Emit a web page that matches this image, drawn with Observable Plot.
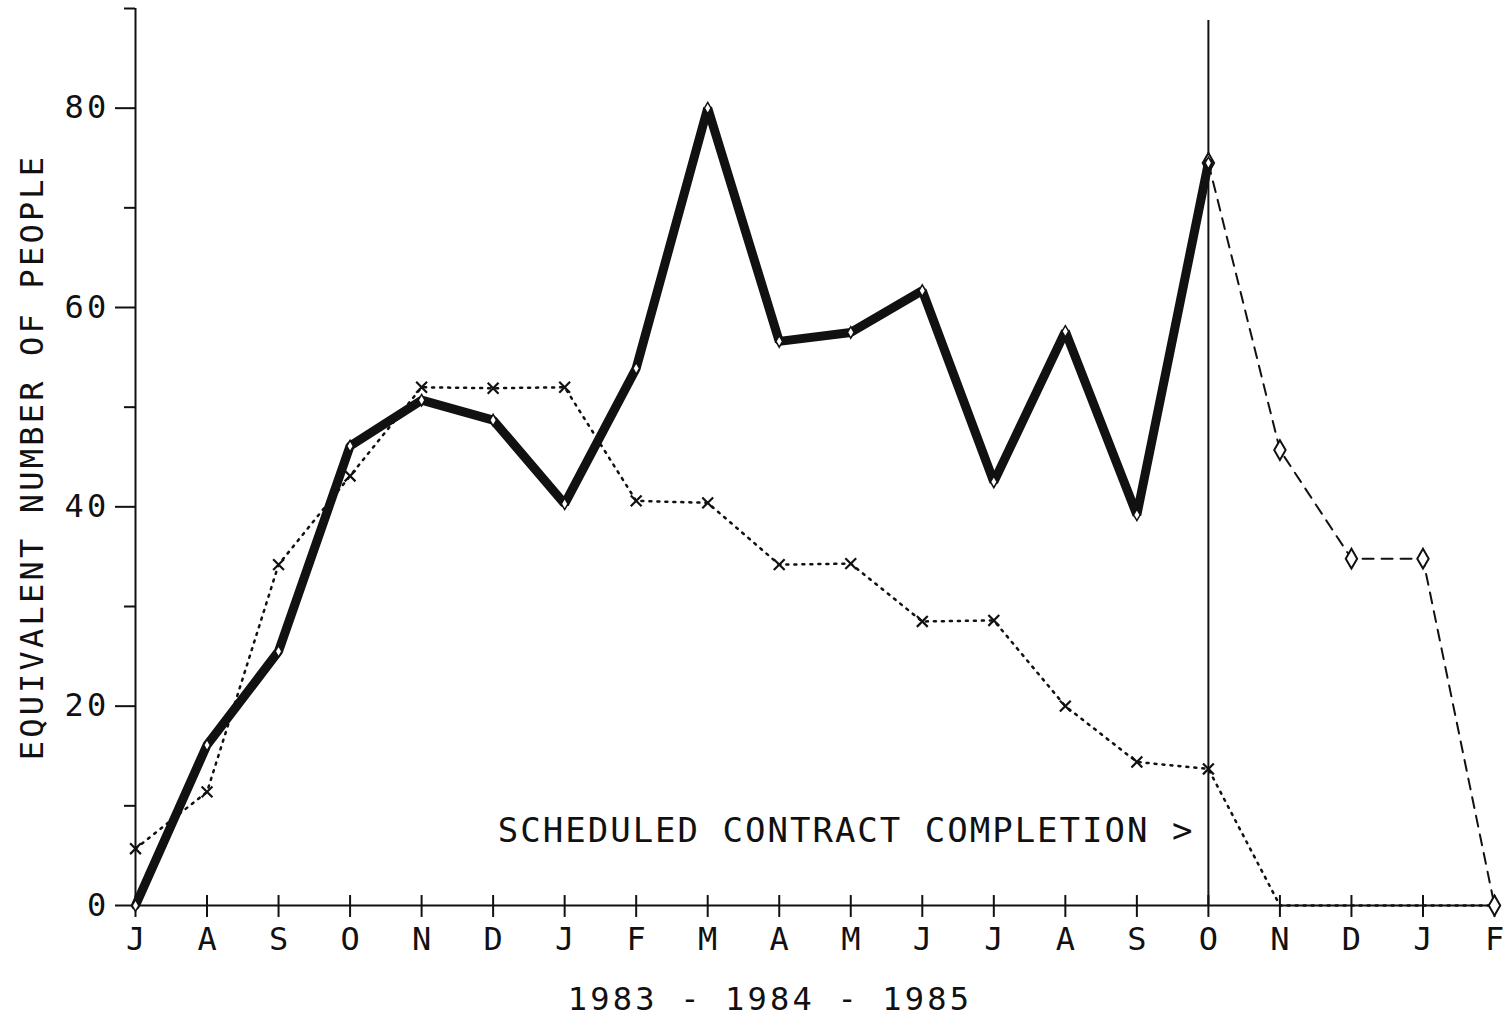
<!DOCTYPE html>
<html><head><meta charset="utf-8">
<script src="https://cdn.jsdelivr.net/npm/d3@7"></script>
<script src="https://cdn.jsdelivr.net/npm/@observablehq/plot@0.6"></script>
<style>
body{margin:0;background:#fff}
svg{display:block}
svg text{letter-spacing:3.2px}
.note text{letter-spacing:2px}
g[aria-label="x-axis tick label"] text{letter-spacing:0}
</style>
</head><body><div id="chart"></div>
<script>
const months = ["J","A","S","O","N","D","J","F","M","A","M","J","J","A","S","O","N","D","J","F"];
const monthIndex = months.map((m, i) => i);
const actual = [0, 16.1, 25.5, 46.1, 50.7, 48.7, 40.3, 53.9, 80, 56.6, 57.5, 61.7, 42.5, 57.6, 39.2, 74.5];
const planned = [5.7, 11.4, 34.2, 43.1, 52, 51.9, 52, 40.6, 40.4, 34.2, 34.3, 28.5, 28.6, 20, 14.4, 13.7, 0, 0, 0, 0];
const forecastIndex = [15, 16, 17, 18, 19];
const forecast = [74.5, 45.7, 34.8, 34.8, 0];
const majorTicks = [0, 20, 40, 60, 80];
const minorTicks = [10, 30, 50, 70, 90];
const completionIndex = 15;
const completionTop = 88.8;
const yLabel = "EQUIVALENT NUMBER OF PEOPLE";
const xLabel = "1983 - 1984 - 1985";
const note = "SCHEDULED CONTRACT COMPLETION >";
const noteY = 7.5;

const font = "DejaVu Sans Mono";

const chart = Plot.plot({
  width: 1505,
  height: 1022,
  marginLeft: 135,
  marginRight: 11,
  marginTop: 8,
  marginBottom: 117,
  style: {fontFamily: font, fontSize: "32px", color: "#111", background: "#fff"},
  x: {domain: [0, 19], axis: null},
  y: {domain: [0, 90], axis: null},
  marks: [
    // y axis
    Plot.axisY(majorTicks, {tickSize: 20, tickPadding: 6, strokeWidth: 2, label: null, fontSize: 32}),
    Plot.axisY(minorTicks, {tickSize: 11, strokeWidth: 2, tickFormat: () => "", label: null}),
    Plot.ruleX([0], {y1: 0, y2: 90, strokeWidth: 2}),
    // x axis
    Plot.ruleY([0], {x1: 0, x2: 19, strokeWidth: 2}),
    Plot.ruleX(monthIndex, {x: d => d, y1: -1.2, y2: 1.0, strokeWidth: 2}),
    Plot.axisX(monthIndex, {tickSize: 0, tickPadding: 22, tickFormat: i => months[i], label: null, fontSize: 32}),
    // completion line
    Plot.ruleX([completionIndex], {y1: 0, y2: completionTop, strokeWidth: 2}),
    // planned (dotted)
    Plot.lineY(planned, {x: (d, i) => i, y: d => d, strokeWidth: 2.5, strokeDasharray: "2 6", strokeLinecap: "round"}),
    Plot.dot(planned, {x: (d, i) => i, y: d => d, filter: (d, i) => i <= completionIndex, symbol: "times", r: 5, stroke: "#111", strokeWidth: 2.2}),
    // forecast (dashed)
    Plot.line(forecast, {x: (d, i) => forecastIndex[i], y: d => d, strokeWidth: 2, strokeDasharray: "11 8"}),
    Plot.dot(forecast, {x: (d, i) => forecastIndex[i], y: d => d, symbol: "diamond", r: 6, fill: "#fff", stroke: "#111", strokeWidth: 2}),
    // actual (thick)
    Plot.lineY(actual, {x: (d, i) => i, y: d => d, strokeWidth: 9, stroke: "#111", strokeLinejoin: "miter"}),
    Plot.dot(actual, {x: (d, i) => i, y: d => d, symbol: "diamond", r: 3.5, fill: "#fff", stroke: "#111", strokeWidth: 1.5}),
    // texts
    Plot.text([note], {x: completionIndex, y: noteY, text: d => d, textAnchor: "end", dx: -14, fontSize: 34, fill: "#111", className: "note"}),
    Plot.text([yLabel], {frameAnchor: "left", text: d => d, textAnchor: "middle", rotate: -90, dx: -103, fontSize: 32, fill: "#111"}),
    Plot.text([xLabel], {frameAnchor: "bottom", text: d => d, dx: -45, dy: 104, fontSize: 32, fill: "#111"})
  ]
});
document.getElementById("chart").appendChild(chart);
</script>
</body></html>
